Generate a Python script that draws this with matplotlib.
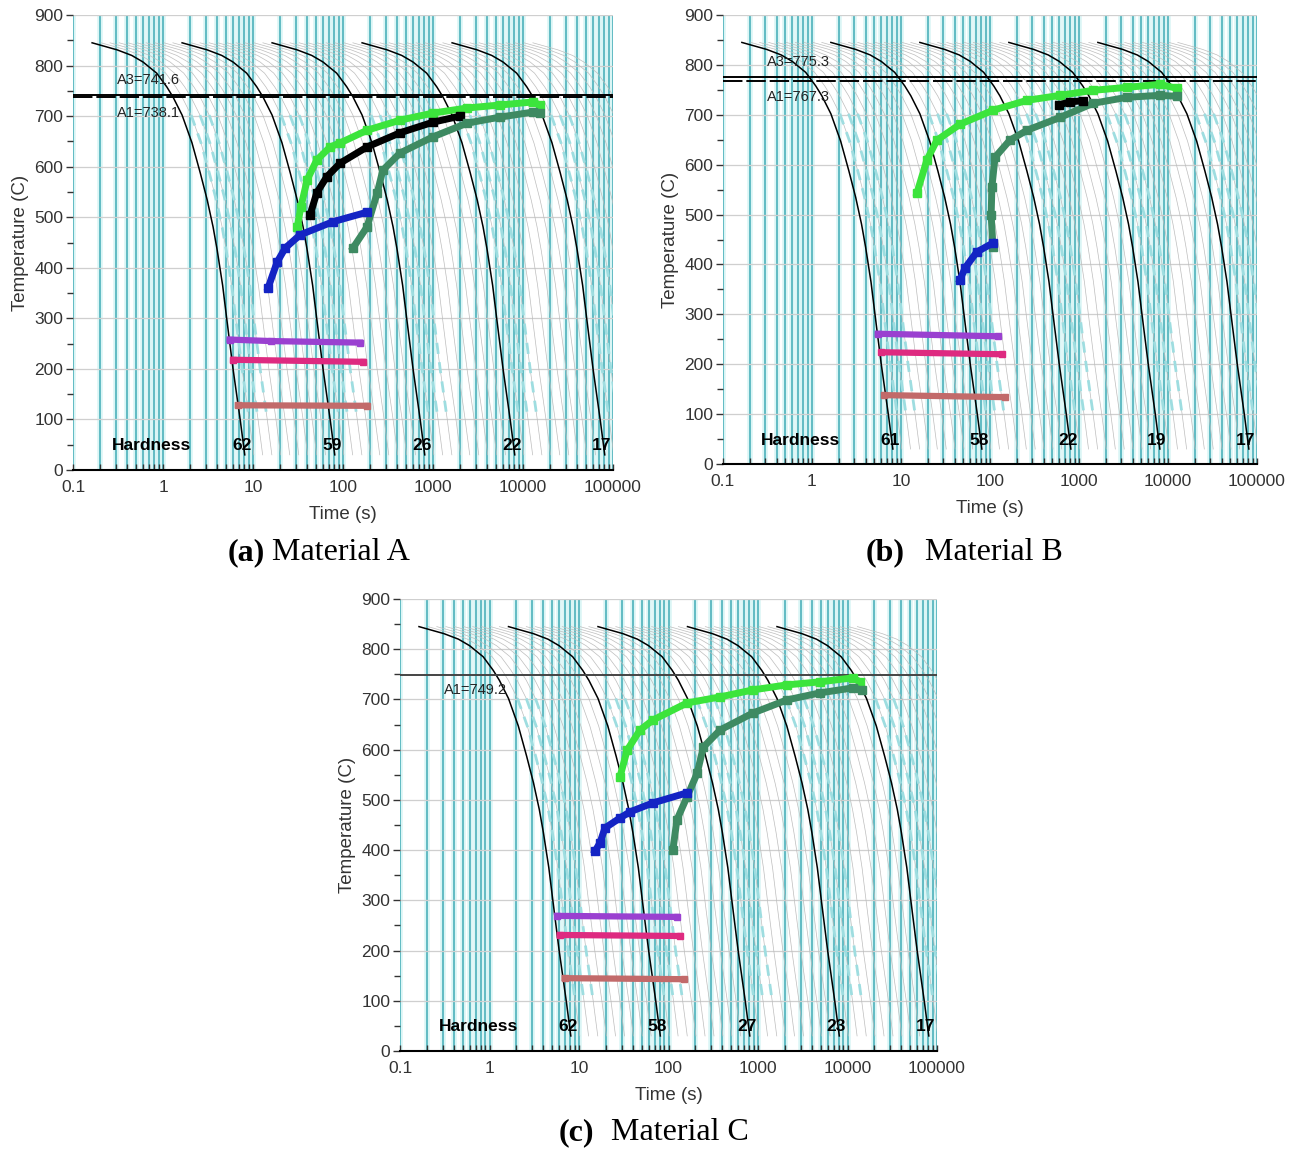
import matplotlib
matplotlib.use('Agg')
import matplotlib.pyplot as plt
from matplotlib.ticker import FixedLocator, LogLocator, MultipleLocator, NullFormatter

plt.rcParams['font.family'] = ['Liberation Sans', 'DejaVu Sans']

cool_time = [0.163, 0.31, 0.45, 0.6, 0.85, 1.1, 1.29, 1.63, 2.1, 2.6, 3.1, 3.6, 4.0, 4.6, 5.1, 6.0, 7.2, 8.1]
cool_temp = [845, 831, 820, 807, 785, 758, 738, 702, 647, 587, 534, 481, 435, 365, 300, 200, 100, 30]
black_scale = [1, 10, 100, 1000, 10000]
grey_scale = [1.26, 1.58, 2.0, 2.5, 3.16, 3.98, 5.0, 6.3, 7.9]

x_ticks = [0.1, 1, 10, 100, 1000, 10000, 100000]
x_labels = ['0.1', '1', '10', '100', '1000', '10000', '100000']

# panel (a)
a_green_t = [31, 34, 40, 51, 72, 93, 185, 430, 1000, 2380, 5560, 12900, 15500]
a_green_T = [480, 520, 574, 613, 639, 647, 672, 692, 706, 716, 722, 728, 722]
a_black_t = [43, 51, 66, 93, 185, 430, 1000, 2000]
a_black_T = [504, 548, 580, 607, 639, 667, 688, 700]
a_dkgreen_t = [129, 185, 240, 277, 430, 1000, 2380, 5560, 12900, 15500]
a_dkgreen_T = [439, 481, 548, 593, 627, 659, 686, 698, 708, 706]
a_blue_t = [14.7, 18.5, 22.8, 33.3, 77, 185]
a_blue_T = [360, 411, 439, 465, 491, 510]
a_purple_t = [5.5, 16, 155]
a_purple_T = [258, 255, 252]
a_magenta_t = [6.0, 167]
a_magenta_T = [218, 214]
a_brown_t = [6.8, 185]
a_brown_T = [128, 127]
a_crit = [('A3', 741.6), ('A1', 738.1)]
a_hard = ['62', '59', '26', '22', '17']

# panel (b)
b_green_t = [15.1, 19.5, 25.3, 46, 108, 261, 618, 1440, 3460, 8100, 12600]
b_green_T = [543, 609, 649, 681, 709, 729, 739, 749, 755, 761, 753]
b_black_t = [600, 800, 1100]
b_black_T = [720, 726, 728]
b_dkgreen_t = [108, 103, 105, 114, 167, 261, 618, 1440, 3460, 8100, 12600]
b_dkgreen_T = [435, 499, 555, 615, 649, 669, 695, 723, 735, 739, 737]
b_blue_t = [46, 52.5, 71, 108]
b_blue_T = [369, 393, 425, 443]
b_purple_t = [5.5, 123]
b_purple_T = [261, 256]
b_magenta_t = [6.0, 136]
b_magenta_T = [224, 220]
b_brown_t = [6.5, 147]
b_brown_T = [138, 134]
b_crit = [('A3', 775.3), ('A1', 767.3)]
b_hard = ['61', '58', '22', '19', '17']

# panel (c)
c_green_t = [28.7, 34.5, 48, 67, 161, 376, 878, 2100, 4900, 11500, 13800]
c_green_T = [546, 599, 639, 659, 693, 705, 719, 729, 735, 743, 735]
c_dkgreen_t = [112, 124, 161, 209, 245, 376, 878, 2100, 4900, 11500, 14500]
c_dkgreen_T = [400, 460, 506, 553, 605, 639, 673, 699, 713, 723, 719]
c_blue_t = [15.1, 17.1, 19.5, 28.7, 37, 67, 161]
c_blue_T = [398, 414, 444, 464, 476, 494, 514]
c_purple_t = [5.7, 124]
c_purple_T = [269, 267]
c_magenta_t = [6.1, 135]
c_magenta_T = [231, 229]
c_brown_t = [6.9, 149]
c_brown_T = [145, 143]
c_crit = [('A1', 749.2)]
c_hard = ['62', '58', '27', '23', '17']

GREEN = '#3CE43C'
DKGREEN = '#3E8A62'
BLUE = '#1424C4'
PURPLE = '#9A40D0'
MAGENTA = '#DE2A80'
BROWN = '#C26A6A'


def draw_panel(ax, curves, bars, crit, hard, crit_color='black'):
    ax.set_xscale('log')
    ax.set_xlim(0.1, 100000)
    ax.set_ylim(0, 900)

    ax.xaxis.set_major_locator(FixedLocator(x_ticks))
    ax.set_xticklabels(x_labels)
    ax.xaxis.set_minor_locator(LogLocator(base=10, subs=range(2, 10), numticks=20))
    ax.xaxis.set_minor_formatter(NullFormatter())
    ax.yaxis.set_major_locator(MultipleLocator(100))
    ax.yaxis.set_minor_locator(MultipleLocator(50))

    # cyan vertical grid with a pale glow
    vpos = [v for v in list(ax.xaxis.get_minorticklocs()) + x_ticks if 0.1 <= v <= 100000]
    ax.vlines(vpos, 0, 900, color='#DAF5F5', lw=4, zorder=0.5)
    ax.vlines(vpos, 0, 900, color='#58B6BF', lw=1.3, zorder=1)
    for y in range(100, 901, 100):
        ax.axhline(y, color='#CFCFCF', lw=0.9, zorder=1.2)

    # grey family of cooling curves, a few of them cyan dashed
    for s in black_scale:
        for i, g in enumerate(grey_scale):
            tt = [t * s * g for t in cool_time]
            ax.plot(tt, cool_temp, color='#BDBDBD', lw=0.5, zorder=2)
            if i < 3:
                sub = [(t, T) for t, T in zip(tt, cool_temp) if 80 <= T <= 720]
                ax.plot([p[0] for p in sub], [p[1] for p in sub], color='#9EDDE0',
                        lw=2.0, dashes=(4, 3), zorder=2.5)
        ax.plot([t * s for t in cool_time], cool_temp, color='black', lw=1.1, zorder=3)

    # critical temperatures
    for name, val in crit:
        ls = '-' if name == 'A3' or len(crit) == 1 else (0, (10, 2))
        ax.axhline(val, color=crit_color, lw=1.4, ls=ls, zorder=3)
        off = 30 if name == 'A3' else -31
        ax.text(0.31, val + off, '%s=%.1f' % (name, val), fontsize=10.5, color='#222222',
                va='center', ha='left', zorder=5)

    # transformation curves
    for t, T, c in curves:
        ax.plot(t, T, color=c, lw=5, marker='s', ms=6, solid_joinstyle='round', zorder=4)
    for t, T, c in bars:
        ax.plot(t, T, color=c, lw=4.5, marker='s', ms=5, zorder=4)

    # hardness row
    ax.text(0.75, 48, 'Hardness', fontsize=12.5, fontweight='bold', ha='center', va='center', zorder=5)
    for s, h in zip(black_scale, hard):
        ax.text(7.5 * s, 48, h, fontsize=12.5, fontweight='bold', ha='center', va='center', zorder=5)

    for sp in ['top', 'right', 'left']:
        ax.spines[sp].set_visible(False)
    ax.spines['bottom'].set_linewidth(1.5)
    ax.tick_params(axis='x', which='both', direction='in', length=4, width=1, colors='#333333',
                   labelsize=12.5, pad=7)
    ax.tick_params(axis='y', which='major', direction='out', length=5, width=1, colors='#333333',
                   labelsize=12.5, pad=2)
    ax.tick_params(axis='y', which='minor', direction='out', length=4, width=1, colors='#333333')
    ax.set_xlabel('Time (s)', fontsize=13.5, color='#333333', labelpad=8)
    ax.set_ylabel('Temperature (C)', fontsize=13.5, color='#333333', labelpad=4)


fig = plt.figure(figsize=(12.97, 11.51), dpi=100)
W, H = 1297.0, 1151.0
ax_a = fig.add_axes([73 / W, 1 - 470 / H, 540 / W, 455 / H])
ax_b = fig.add_axes([723 / W, 1 - 464 / H, 534 / W, 449 / H])
ax_c = fig.add_axes([400 / W, 1 - 1051 / H, 537 / W, 452 / H])

draw_panel(ax_a,
           [(a_green_t, a_green_T, GREEN), (a_black_t, a_black_T, 'black'),
            (a_dkgreen_t, a_dkgreen_T, DKGREEN), (a_blue_t, a_blue_T, BLUE)],
           [(a_purple_t, a_purple_T, PURPLE), (a_magenta_t, a_magenta_T, MAGENTA),
            (a_brown_t, a_brown_T, BROWN)],
           a_crit, a_hard)
draw_panel(ax_b,
           [(b_green_t, b_green_T, GREEN), (b_dkgreen_t, b_dkgreen_T, DKGREEN),
            (b_black_t, b_black_T, 'black'), (b_blue_t, b_blue_T, BLUE)],
           [(b_purple_t, b_purple_T, PURPLE), (b_magenta_t, b_magenta_T, MAGENTA),
            (b_brown_t, b_brown_T, BROWN)],
           b_crit, b_hard)
draw_panel(ax_c,
           [(c_green_t, c_green_T, GREEN), (c_dkgreen_t, c_dkgreen_T, DKGREEN),
            (c_blue_t, c_blue_T, BLUE)],
           [(c_purple_t, c_purple_T, PURPLE), (c_magenta_t, c_magenta_T, MAGENTA),
            (c_brown_t, c_brown_T, BROWN)],
           c_crit, c_hard, crit_color='#444444')

serif = ['Liberation Serif', 'DejaVu Serif']
captions = [(265, 272, 553, '(a)', 'Material A'),
            (905, 925, 553, '(b)', 'Material B'),
            (594, 611, 1133, '(c)', 'Material C')]
for xb, xm, y, tag, name in captions:
    fig.text(xb / W, 1 - y / H, tag, family=serif, fontweight='bold', fontsize=23,
             ha='right', va='center')
    fig.text(xm / W, 1 - y / H, name, family=serif, fontsize=23, ha='left', va='center')

fig.savefig('out.png', dpi=100)
